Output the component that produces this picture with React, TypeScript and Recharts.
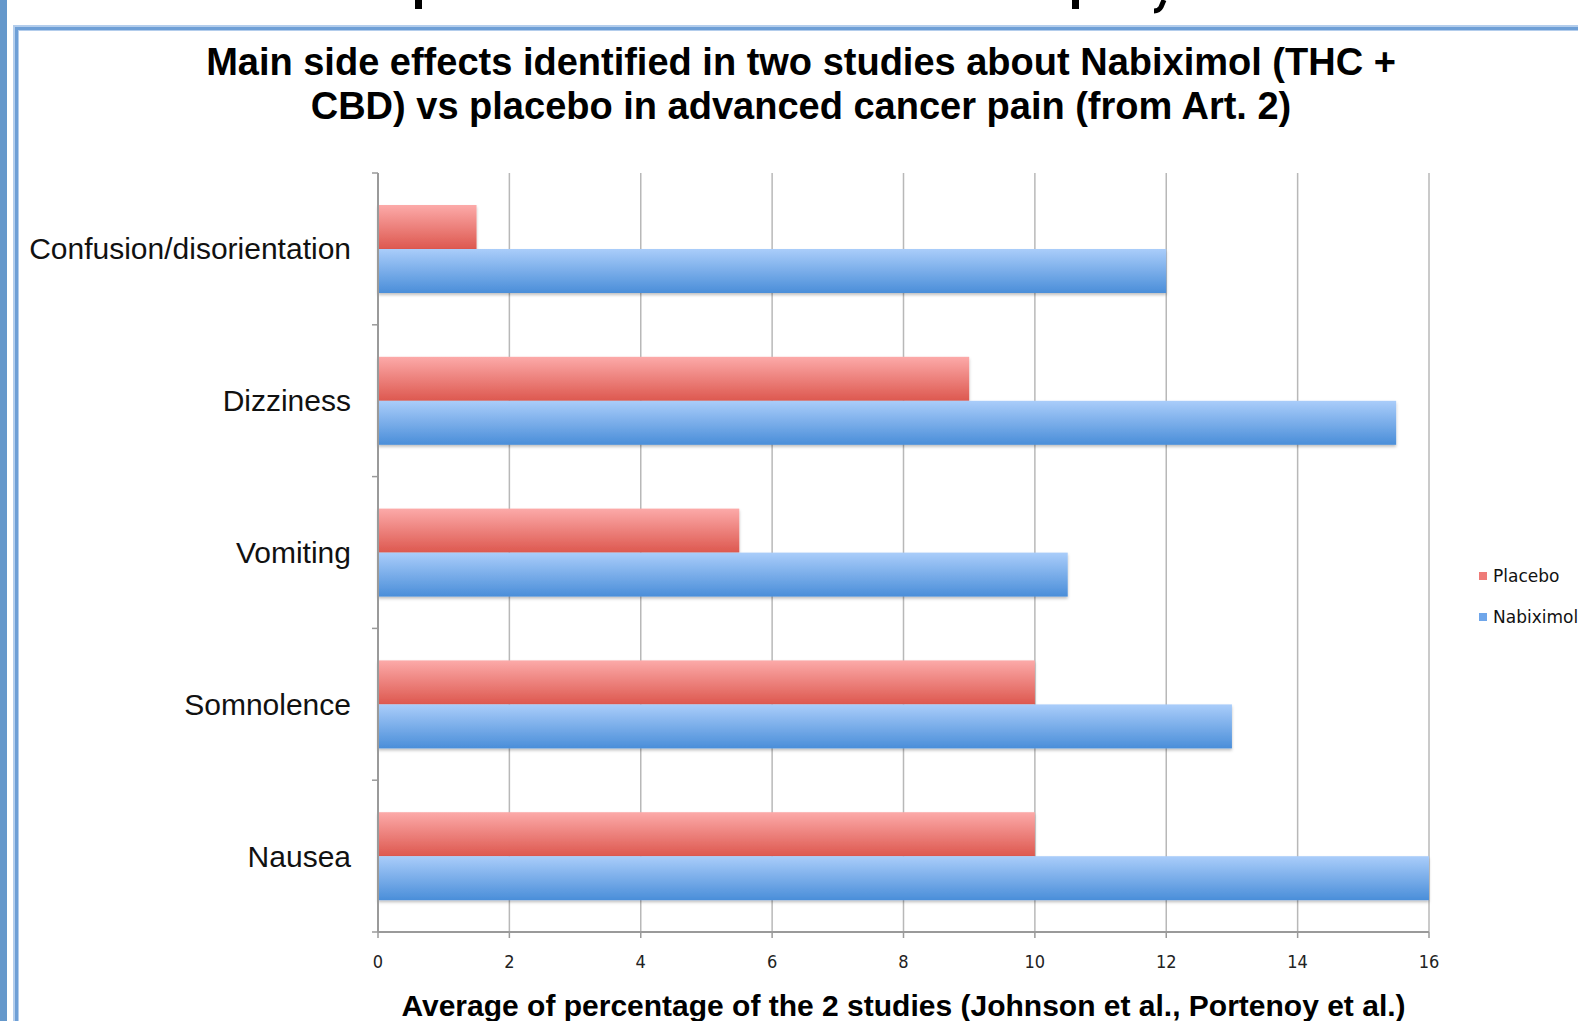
import React from "react";
import { BarChart, Bar, XAxis, YAxis, CartesianGrid } from "recharts";

// Side effects, top to bottom
const categories = [
  "Confusion/disorientation",
  "Dizziness",
  "Vomiting",
  "Somnolence",
  "Nausea",
];
// Average percentage across the two studies
const placebo = [1.5, 9, 5.5, 10, 10];
const nabiximol = [12, 15.5, 10.5, 13, 16];
const xTicks = [0, 2, 4, 6, 8, 10, 12, 14, 16];

const seriesNames = { placebo: "Placebo", nabiximol: "Nabiximol" };

const data = categories.map((name, i) => ({
  name,
  placebo: placebo[i],
  nabiximol: nabiximol[i],
}));

const W = 1578;
const H = 1021;
const PLOT_TOP = 173;
const PLOT_BOTTOM = 932;
const PLOT_LEFT = 378;
const PLOT_RIGHT = 1429;
const X_AXIS_H = 40;

const AXIS_COLOR = "#9a9a9a";
const GRID_COLOR = "#b8b8b8";

const CategoryTick = (props: any) => {
  const { x, y, payload, index } = props;
  const band = (PLOT_BOTTOM - PLOT_TOP) / categories.length;
  const half = payload && typeof payload.offset === "number" && payload.offset > 0 ? payload.offset : band / 2;
  return (
    <g>
      <line x1={x - 6} x2={x} y1={y - half} y2={y - half} stroke={AXIS_COLOR} strokeWidth={1.5} />
      {index === categories.length - 1 && (
        <line x1={x - 6} x2={x} y1={y + half} y2={y + half} stroke={AXIS_COLOR} strokeWidth={1.5} />
      )}
      <text
        x={x - 27}
        y={y}
        textAnchor="end"
        dominantBaseline="central"
        fontFamily="'Liberation Sans', Arial, sans-serif"
        fontSize={30}
        fill="#111"
      >
        {payload.value}
      </text>
    </g>
  );
};

const ShadowBar = (fillId: string) => (p: any) => {
  const { x, y, width, height } = p;
  if (!width || width <= 0) return <g />;
  return (
    <rect
      x={x}
      y={y}
      width={width}
      height={height}
      fill={`url(#${fillId})`}
      filter="url(#barShadow)"
    />
  );
};

const legendItems = [
  { label: seriesNames.placebo, color: "#ef7b78", top: 576 },
  { label: seriesNames.nabiximol, color: "#6fa6ea", top: 617 },
];

export default function App() {
  return (
    <div
      style={{
        position: "absolute",
        left: 0,
        top: 0,
        width: W,
        height: H,
        overflow: "hidden",
        background: "#fff",
      }}
    >
      {/* slide edge strip and chart frame */}
      <div style={{ position: "absolute", left: 0, top: 0, width: 7, height: H, background: "#6598cb" }} />
      <div
        style={{
          position: "absolute",
          left: 13,
          top: 25,
          width: W,
          height: H,
          borderLeft: "6px solid #b3cdec",
          borderTop: "6px solid #b3cdec",
          boxSizing: "border-box",
        }}
      />
      <div
        style={{
          position: "absolute",
          left: 15,
          top: 27,
          width: W,
          height: H,
          borderLeft: "3px solid #6e9fd6",
          borderTop: "3px solid #6e9fd6",
          boxSizing: "border-box",
        }}
      />
      {/* glyph descenders from the slide heading above the frame */}
      <div style={{ position: "absolute", left: 415, top: 0, width: 7, height: 9, background: "#000" }} />
      <div style={{ position: "absolute", left: 1072, top: 0, width: 7, height: 9, background: "#000" }} />
      <svg style={{ position: "absolute", left: 1150, top: 0 }} width={30} height={14}>
        <path d="M14 0 L11 7 Q9 11 4 11" stroke="#000" strokeWidth={5} fill="none" />
      </svg>

      {/* chart title */}
      <div
        style={{
          position: "absolute",
          left: 0,
          width: 1602,
          top: 40,
          textAlign: "center",
          fontFamily: "'Liberation Sans', Arial, sans-serif",
          fontWeight: "bold",
          fontSize: 38,
          lineHeight: "44px",
          color: "#000",
        }}
      >
        Main side effects identified in two studies about Nabiximol (THC +
        <br />
        CBD) vs placebo in advanced cancer pain (from Art. 2)
      </div>

      <div style={{ position: "absolute", left: 0, top: 0 }}>
        <BarChart
          layout="vertical"
          width={W}
          height={H}
          data={data}
          margin={{ top: PLOT_TOP, right: W - PLOT_RIGHT, bottom: H - PLOT_BOTTOM - X_AXIS_H, left: 0 }}
          barGap={0}
        >
          <defs>
            <linearGradient id="gradPlacebo" x1="0" y1="0" x2="0" y2="1">
              <stop offset="0%" stopColor="#fcaaa9" />
              <stop offset="100%" stopColor="#dd584f" />
            </linearGradient>
            <linearGradient id="gradNabiximol" x1="0" y1="0" x2="0" y2="1">
              <stop offset="0%" stopColor="#aacdfa" />
              <stop offset="100%" stopColor="#4a8ed9" />
            </linearGradient>
            <filter id="barShadow" x="-5%" y="-20%" width="110%" height="150%">
              <feDropShadow dx="0" dy="2" stdDeviation="1.5" floodColor="#000" floodOpacity="0.25" />
            </filter>
          </defs>
          <CartesianGrid horizontal={false} vertical stroke={GRID_COLOR} strokeWidth={1.5} />
          <XAxis
            type="number"
            domain={[0, 16]}
            ticks={xTicks}
            interval={0}
            height={X_AXIS_H}
            axisLine={{ stroke: AXIS_COLOR, strokeWidth: 2 }}
            tickLine={{ stroke: AXIS_COLOR, strokeWidth: 1.5 }}
            tickSize={6}
            tickMargin={17}
            tick={{ fontFamily: "'DejaVu Sans Condensed', 'DejaVu Sans', sans-serif", fontSize: 18, fill: "#222" }}
          />
          <YAxis
            type="category"
            dataKey="name"
            width={PLOT_LEFT}
            axisLine={{ stroke: AXIS_COLOR, strokeWidth: 2 }}
            tickLine={false}
            tickSize={0}
            tickMargin={0}
            interval={0}
            tick={<CategoryTick />}
          />
          <Bar
            dataKey="placebo"
            name={seriesNames.placebo}
            barSize={44}
            isAnimationActive={false}
            shape={ShadowBar("gradPlacebo")}
          />
          <Bar
            dataKey="nabiximol"
            name={seriesNames.nabiximol}
            barSize={44}
            isAnimationActive={false}
            shape={ShadowBar("gradNabiximol")}
          />
        </BarChart>
      </div>

      {/* x-axis title */}
      <div
        style={{
          position: "absolute",
          left: PLOT_LEFT - 300,
          width: PLOT_RIGHT - PLOT_LEFT + 600,
          top: 989,
          textAlign: "center",
          fontFamily: "'Liberation Sans', Arial, sans-serif",
          fontWeight: "bold",
          fontSize: 30,
          lineHeight: "34px",
          color: "#000",
        }}
      >
        Average of percentage of the 2 studies (Johnson et al., Portenoy et al.)
      </div>

      {/* legend */}
      {legendItems.map((it) => (
        <div
          key={it.label}
          style={{
            position: "absolute",
            left: 1479,
            top: it.top - 10,
            height: 20,
            display: "flex",
            alignItems: "center",
            whiteSpace: "nowrap",
            fontFamily: "'DejaVu Sans', sans-serif",
            fontSize: 17,
            color: "#111",
          }}
        >
          <span style={{ display: "inline-block", width: 8, height: 8, background: it.color, marginRight: 6 }} />
          {it.label}
        </div>
      ))}
    </div>
  );
}
